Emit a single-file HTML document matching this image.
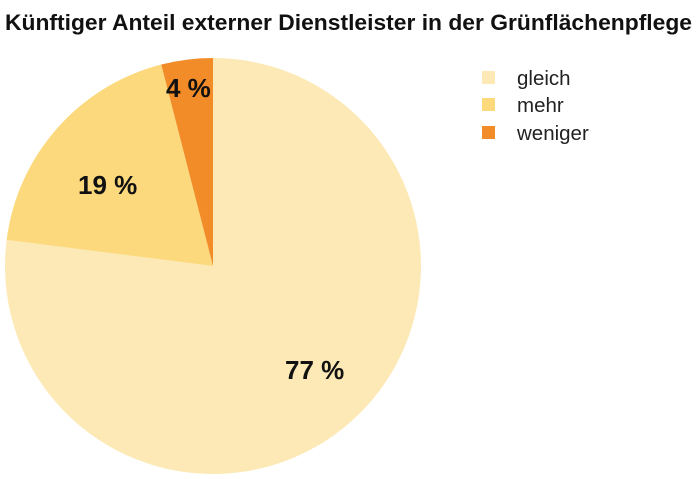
<!DOCTYPE html>
<html><head><meta charset="utf-8"><style>
html,body{margin:0;padding:0;background:#fff;width:700px;height:479px;overflow:hidden}
</style></head><body>
<svg width="700" height="479" viewBox="0 0 700 479" xmlns="http://www.w3.org/2000/svg" font-family="Liberation Sans, sans-serif">
<text x="5" y="30" font-size="22" font-weight="bold" fill="#111" textLength="687" lengthAdjust="spacingAndGlyphs">Künftiger Anteil externer Dienstleister in der Grünflächenpflege</text>
<path d="M213,266 L213,58 A208,208 0 1 1 6.64,239.93 Z" fill="#fce9b6"/>
<path d="M213,266 L6.64,239.93 A208,208 0 0 1 161.27,64.54 Z" fill="#fbd97c"/>
<path d="M213,266 L161.27,64.54 A208,208 0 0 1 213,58 Z" fill="#f28c28"/>
<g font-weight="bold" font-size="26" fill="#111">
<text x="166" y="97">4 %</text>
<text x="78" y="194">19 %</text>
<text x="285" y="379">77 %</text>
</g>
<rect x="482" y="71" width="13" height="13" fill="#fce9b6"/>
<rect x="482" y="98" width="13" height="13" fill="#fbd97c"/>
<rect x="482" y="126" width="13" height="13" fill="#f28c28"/>
<g font-size="20.5" fill="#222">
<text x="517" y="85">gleich</text>
<text x="517" y="112">mehr</text>
<text x="517" y="140">weniger</text>
</g>
</svg>
</body></html>
